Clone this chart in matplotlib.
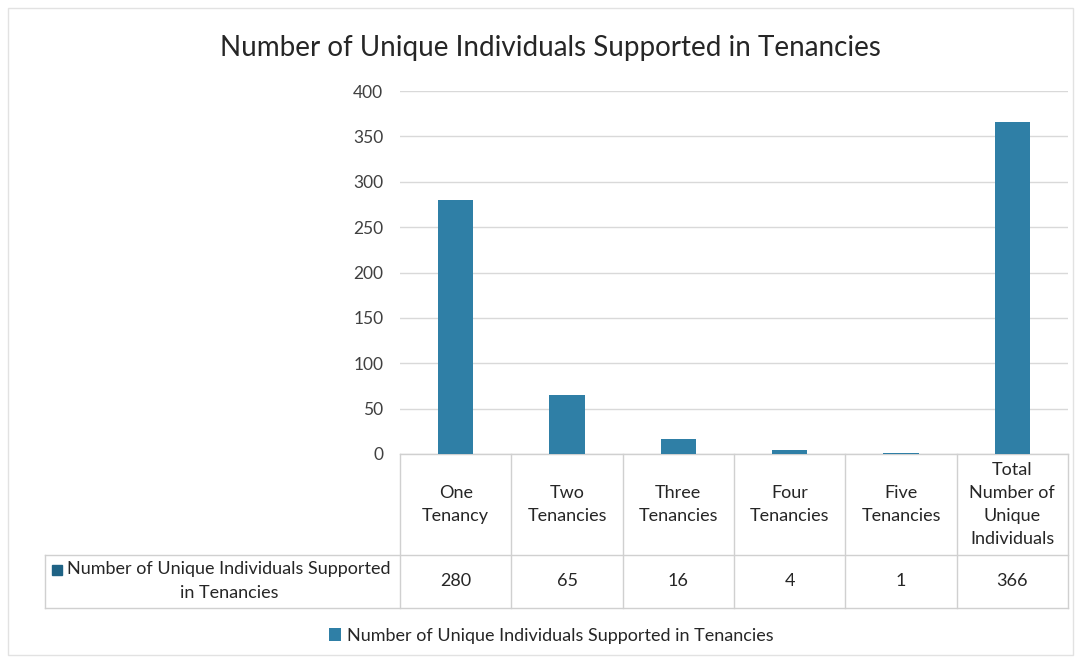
import matplotlib
matplotlib.use('Agg')
from matplotlib import pyplot as plt
from matplotlib.patches import Rectangle
import matplotlib.transforms as mtransforms

categories = ['One\nTenancy', 'Two\nTenancies', 'Three\nTenancies', 'Four\nTenancies',
              'Five\nTenancies', 'Total\nNumber of\nUnique\nIndividuals']
values = [280, 65, 16, 4, 1, 366]
series_name = 'Number of Unique Individuals Supported in Tenancies'
title = 'Number of Unique Individuals Supported in Tenancies'

bar_color = '#2f7fa6'
key_color = '#1f6385'
grid_color = '#d9d9d9'
line_color = '#d0d0d0'
text_color = '#262626'

plt.rcParams['font.family'] = ['Lato', 'DejaVu Sans']

fig = plt.figure(figsize=(10.81, 6.63), dpi=100)
ax = fig.add_axes([400 / 1081, 1 - 454 / 663, 668 / 1081, 363 / 663])

x = list(range(len(values)))
bars = ax.bar(x, values, width=0.32, color=bar_color, zorder=3, label=series_name)
ax.set_xlim(-0.5, len(values) - 0.5)
ax.set_ylim(0, 400)
ax.set_yticks(range(0, 401, 50))
ax.yaxis.grid(True, color=grid_color, linewidth=1)
ax.set_axisbelow(True)
ax.tick_params(axis='y', length=0, pad=12, labelsize=12.5, labelcolor='#404040')
ax.set_xticks([])
for s in ax.spines.values():
    s.set_visible(False)

# data table under the bars, drawn by hand (x in data units, y in axes fraction)
trans = mtransforms.blended_transform_factory(ax.transData, ax.transAxes)
y_top, y_mid, y_bot = 0.0, -101 / 363, -154 / 363
x_left = -0.5 - 355 / (668 / len(values))   # left edge of the row-label cell
x_right = len(values) - 0.5
kw = dict(color=line_color, linewidth=1, transform=trans, clip_on=False)
ax.plot([-0.5, x_right], [y_top, y_top], **kw)
ax.plot([x_left, x_right], [y_mid, y_mid], **kw)
ax.plot([x_left, x_right], [y_bot, y_bot], **kw)
ax.plot([x_left, x_left], [y_mid, y_bot], **kw)
for i in range(len(values) + 1):
    ax.plot([i - 0.5, i - 0.5], [y_top, y_bot], **kw)
for i, (cat, v) in enumerate(zip(categories, values)):
    ax.text(i, (y_top + y_mid) / 2, cat, transform=trans, ha='center', va='center',
            fontsize=13, color=text_color, linespacing=1.55)
    ax.text(i, (y_mid + y_bot) / 2, str(v), transform=trans, ha='center', va='center',
            fontsize=13, color=text_color)

# row label with the series key
fig.patches.append(Rectangle((52 / 1081, 1 - 575 / 663), 10 / 1081, 10 / 663,
                             transform=fig.transFigure, color=key_color))
fig.text(229 / 1081, 1 - 581 / 663, 'Number of Unique Individuals Supported\nin Tenancies',
         ha='center', va='center', fontsize=13, color=text_color, linespacing=1.55)

fig.legend(handles=[bars], labels=[series_name], loc='center', frameon=False,
           bbox_to_anchor=(551 / 1081, 1 - 636 / 663), fontsize=13,
           handlelength=0.7, handleheight=0.7, handletextpad=0.3,
           labelcolor=text_color)

fig.text(550 / 1081, 1 - 48 / 663, title, ha='center', va='center',
         fontsize=20, color=text_color)

# faint outer frame
fig.patches.append(Rectangle((8 / 1081, 8 / 663), 1065 / 1081, 647 / 663,
                             transform=fig.transFigure, fill=False,
                             edgecolor='#e2e2e2', linewidth=1))

fig.savefig('out.png', dpi=100)
